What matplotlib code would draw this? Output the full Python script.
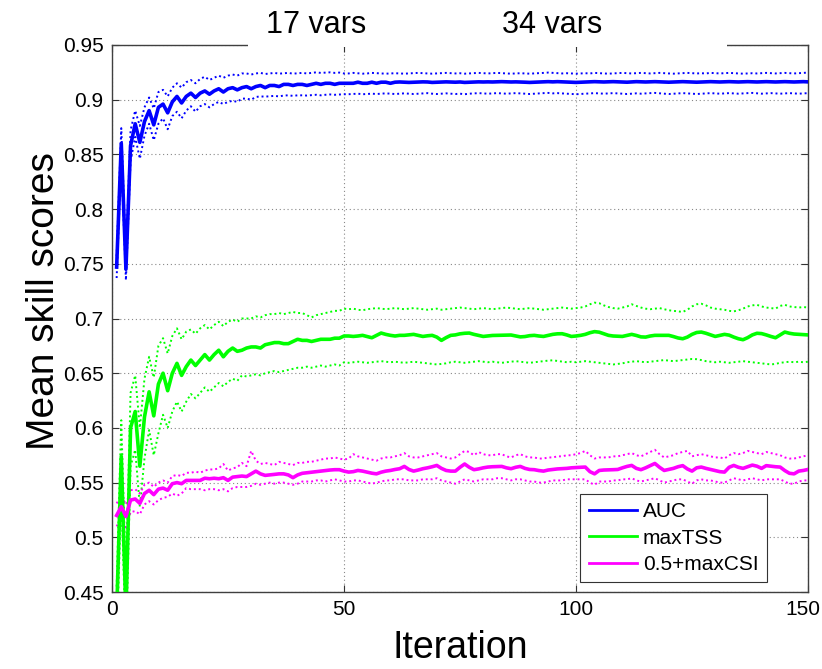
import matplotlib
matplotlib.use("Agg")
import matplotlib.pyplot as plt
from matplotlib.patches import Rectangle
import matplotlib.transforms as mtransforms

plt.rcParams['font.family'] = ['Liberation Sans', 'DejaVu Sans']

iterations = list(range(1, 151))

auc_mean = [
    0.747, 0.860, 0.745, 0.858, 0.878, 0.861, 0.880, 0.890, 0.877, 0.893,
    0.896, 0.888, 0.898, 0.903, 0.897, 0.903, 0.906, 0.902, 0.906, 0.908,
    0.905, 0.908, 0.910, 0.907, 0.910, 0.911, 0.909, 0.911, 0.912, 0.910,
    0.912, 0.913, 0.911, 0.913, 0.913, 0.912, 0.914, 0.914, 0.913, 0.914,
    0.914, 0.913, 0.914, 0.915, 0.914, 0.915, 0.915, 0.914, 0.915, 0.915,
    0.915, 0.915, 0.916, 0.915, 0.915, 0.916, 0.915, 0.916, 0.916, 0.915,
    0.9160, 0.9162, 0.9160, 0.9158, 0.9160, 0.9162, 0.9163, 0.9162, 0.9158, 0.9160,
    0.9162, 0.9163, 0.9162, 0.9160, 0.9162, 0.9158, 0.9160, 0.9162, 0.9163, 0.9162,
    0.9163, 0.9162, 0.9163, 0.9165, 0.9163, 0.9162, 0.9163, 0.9162, 0.9160, 0.9158,
    0.9160, 0.9162, 0.9163, 0.9165, 0.9163, 0.9165, 0.9163, 0.9162, 0.9160, 0.9158,
    0.9160, 0.9162, 0.9163, 0.9165, 0.9163, 0.9162, 0.9163, 0.9165, 0.9163, 0.9162,
    0.9160, 0.9162, 0.9165, 0.9163, 0.9162, 0.9163, 0.9165, 0.9163, 0.9162, 0.9160,
    0.9162, 0.9163, 0.9165, 0.9163, 0.9162, 0.9160, 0.9162, 0.9163, 0.9165, 0.9163,
    0.9162, 0.9163, 0.9165, 0.9163, 0.9162, 0.9163, 0.9165, 0.9163, 0.9162, 0.9163,
    0.9165, 0.9163, 0.9162, 0.9163, 0.9165, 0.9163, 0.9162, 0.9163, 0.9165, 0.9163,
]
auc_upper = [
    0.757, 0.874, 0.757, 0.872, 0.890, 0.876, 0.893, 0.902, 0.892, 0.907,
    0.909, 0.903, 0.911, 0.915, 0.911, 0.916, 0.918, 0.915, 0.919, 0.921,
    0.918, 0.920, 0.922, 0.920, 0.922, 0.923, 0.922, 0.924, 0.924, 0.923,
    0.9240, 0.9245, 0.9235, 0.9240, 0.9245, 0.9238, 0.9242, 0.9245, 0.9238, 0.9242,
    0.9245, 0.9240, 0.9245, 0.9250, 0.9245, 0.9248, 0.9250, 0.9245, 0.9248, 0.9240,
    0.9240, 0.9245, 0.9242, 0.9238, 0.9240, 0.9245, 0.9242, 0.9240, 0.9238, 0.9240,
    0.9242, 0.9240, 0.9238, 0.9240, 0.9242, 0.9245, 0.9242, 0.9240, 0.9238, 0.9240,
    0.9242, 0.9245, 0.9242, 0.9240, 0.9242, 0.9238, 0.9240, 0.9242, 0.9245, 0.9242,
    0.9240, 0.9242, 0.9245, 0.9242, 0.9240, 0.9238, 0.9240, 0.9242, 0.9240, 0.9238,
    0.9240, 0.9242, 0.9245, 0.9248, 0.9245, 0.9242, 0.9240, 0.9242, 0.9240, 0.9238,
    0.9240, 0.9242, 0.9240, 0.9245, 0.9242, 0.9240, 0.9238, 0.9240, 0.9242, 0.9245,
    0.9242, 0.9240, 0.9242, 0.9245, 0.9242, 0.9240, 0.9242, 0.9245, 0.9242, 0.9240,
    0.9238, 0.9240, 0.9242, 0.9245, 0.9242, 0.9240, 0.9242, 0.9240, 0.9245, 0.9242,
    0.9240, 0.9242, 0.9245, 0.9242, 0.9240, 0.9238, 0.9240, 0.9242, 0.9240, 0.9242,
    0.9245, 0.9242, 0.9240, 0.9242, 0.9245, 0.9242, 0.9240, 0.9242, 0.9245, 0.9248,
]
auc_lower = [
    0.737, 0.846, 0.735, 0.844, 0.866, 0.846, 0.867, 0.878, 0.863, 0.878,
    0.883, 0.873, 0.885, 0.889, 0.883, 0.890, 0.894, 0.889, 0.894, 0.896,
    0.893, 0.896, 0.898, 0.896, 0.898, 0.899, 0.898, 0.901, 0.901, 0.900,
    0.9025, 0.9030, 0.9028, 0.9032, 0.9035, 0.9030, 0.9038, 0.9040, 0.9035, 0.9040,
    0.9040, 0.9038, 0.9042, 0.9045, 0.9040, 0.9045, 0.9048, 0.9045, 0.9048, 0.9050,
    0.9050, 0.9052, 0.9055, 0.9050, 0.9052, 0.9055, 0.9052, 0.9055, 0.9058, 0.9055,
    0.9052, 0.9055, 0.9058, 0.9055, 0.9052, 0.9055, 0.9058, 0.9060, 0.9055, 0.9052,
    0.9055, 0.9058, 0.9055, 0.9052, 0.9055, 0.9050, 0.9055, 0.9058, 0.9060, 0.9058,
    0.9055, 0.9058, 0.9060, 0.9058, 0.9055, 0.9058, 0.9060, 0.9058, 0.9055, 0.9052,
    0.9055, 0.9058, 0.9060, 0.9062, 0.9058, 0.9060, 0.9058, 0.9055, 0.9052, 0.9050,
    0.9052, 0.9055, 0.9058, 0.9060, 0.9058, 0.9055, 0.9058, 0.9060, 0.9058, 0.9055,
    0.9052, 0.9055, 0.9058, 0.9055, 0.9058, 0.9060, 0.9062, 0.9058, 0.9055, 0.9052,
    0.9055, 0.9058, 0.9060, 0.9058, 0.9055, 0.9052, 0.9055, 0.9058, 0.9060, 0.9058,
    0.9055, 0.9058, 0.9060, 0.9058, 0.9055, 0.9058, 0.9060, 0.9062, 0.9058, 0.9055,
    0.9058, 0.9060, 0.9058, 0.9055, 0.9058, 0.9060, 0.9058, 0.9055, 0.9058, 0.9060,
]

tss_mean = [
    0.430, 0.574, 0.430, 0.600, 0.615, 0.565, 0.610, 0.633, 0.611, 0.640,
    0.650, 0.634, 0.650, 0.659, 0.648, 0.656, 0.662, 0.657, 0.662, 0.667,
    0.662, 0.667, 0.671, 0.665, 0.670, 0.673, 0.670, 0.671, 0.673, 0.674,
    0.674, 0.673, 0.676, 0.677, 0.678, 0.678, 0.677, 0.677, 0.679, 0.681,
    0.680, 0.680, 0.679, 0.680, 0.681, 0.681, 0.681, 0.682, 0.682, 0.684,
    0.6840, 0.6836, 0.6840, 0.6846, 0.6835, 0.6824, 0.6845, 0.6867, 0.6855, 0.6846,
    0.6840, 0.6846, 0.6846, 0.6850, 0.6855, 0.6845, 0.6836, 0.6842, 0.6846, 0.6830,
    0.6800, 0.6825, 0.6846, 0.6850, 0.6860, 0.6865, 0.6867, 0.6855, 0.6845, 0.6836,
    0.6840, 0.6845, 0.6846, 0.6846, 0.6848, 0.6849, 0.6840, 0.6832, 0.6835, 0.6843,
    0.6846, 0.6840, 0.6836, 0.6845, 0.6855, 0.6860, 0.6861, 0.6850, 0.6836, 0.6840,
    0.6846, 0.6855, 0.6870, 0.6880, 0.6875, 0.6860, 0.6846, 0.6840, 0.6838, 0.6836,
    0.6845, 0.6855, 0.6845, 0.6832, 0.6830, 0.6840, 0.6846, 0.6846, 0.6846, 0.6846,
    0.6835, 0.6822, 0.6815, 0.6830, 0.6855, 0.6872, 0.6876, 0.6865, 0.6850, 0.6836,
    0.6845, 0.6855, 0.6848, 0.6830, 0.6815, 0.6806, 0.6825, 0.6850, 0.6865, 0.6862,
    0.6850, 0.6836, 0.6824, 0.6850, 0.6876, 0.6865, 0.6858, 0.6855, 0.6852, 0.6850,
]
tss_upper = [
    0.455, 0.607, 0.460, 0.632, 0.648, 0.600, 0.645, 0.665, 0.646, 0.675,
    0.682, 0.668, 0.684, 0.691, 0.681, 0.688, 0.690, 0.686, 0.691, 0.694,
    0.690, 0.694, 0.697, 0.693, 0.697, 0.699, 0.697, 0.700, 0.700, 0.700,
    0.702, 0.701, 0.703, 0.704, 0.704, 0.705, 0.704, 0.705, 0.706, 0.705,
    0.705, 0.703, 0.701, 0.703, 0.704, 0.705, 0.706, 0.707, 0.707, 0.709,
    0.7085, 0.7090, 0.7080, 0.7075, 0.7085, 0.7090, 0.7095, 0.7090, 0.7085, 0.7090,
    0.7095, 0.7090, 0.7085, 0.7090, 0.7095, 0.7090, 0.7085, 0.7080, 0.7085, 0.7090,
    0.7080, 0.7085, 0.7090, 0.7095, 0.7100, 0.7095, 0.7090, 0.7085, 0.7090, 0.7095,
    0.7090, 0.7085, 0.7090, 0.7095, 0.7100, 0.7095, 0.7090, 0.7085, 0.7090, 0.7095,
    0.7090, 0.7085, 0.7080, 0.7085, 0.7090, 0.7095, 0.7100, 0.7095, 0.7090, 0.7095,
    0.7100, 0.7110, 0.7130, 0.7145, 0.7140, 0.7120, 0.7105, 0.7095, 0.7090, 0.7100,
    0.7110, 0.7130, 0.7115, 0.7100, 0.7090, 0.7085, 0.7090, 0.7095, 0.7085, 0.7075,
    0.7070, 0.7065, 0.7060, 0.7080, 0.7110, 0.7130, 0.7135, 0.7120, 0.7100, 0.7090,
    0.7085, 0.7080, 0.7070, 0.7065, 0.7075, 0.7090, 0.7110, 0.7120, 0.7125, 0.7110,
    0.7100, 0.7095, 0.7090, 0.7115, 0.7125, 0.7110, 0.7105, 0.7100, 0.7105, 0.7100,
]
tss_lower = [
    0.400, 0.540, 0.400, 0.565, 0.580, 0.528, 0.572, 0.598, 0.575, 0.595,
    0.612, 0.600, 0.615, 0.624, 0.615, 0.624, 0.631, 0.627, 0.632, 0.637,
    0.633, 0.637, 0.641, 0.638, 0.642, 0.645, 0.643, 0.648, 0.647, 0.648,
    0.649, 0.648, 0.650, 0.651, 0.652, 0.651, 0.652, 0.653, 0.654, 0.655,
    0.655, 0.656, 0.655, 0.656, 0.657, 0.656, 0.657, 0.658, 0.657, 0.660,
    0.6595, 0.6600, 0.6605, 0.6600, 0.6595, 0.6600, 0.6605, 0.6610, 0.6605, 0.6600,
    0.6605, 0.6600, 0.6595, 0.6600, 0.6605, 0.6600, 0.6595, 0.6590, 0.6585, 0.6580,
    0.6585, 0.6590, 0.6600, 0.6605, 0.6600, 0.6595, 0.6600, 0.6605, 0.6610, 0.6605,
    0.6600, 0.6605, 0.6600, 0.6595, 0.6600, 0.6605, 0.6610, 0.6605, 0.6600, 0.6595,
    0.6600, 0.6605, 0.6610, 0.6615, 0.6618, 0.6612, 0.6605, 0.6600, 0.6605, 0.6600,
    0.6605, 0.6610, 0.6605, 0.6600, 0.6595, 0.6590, 0.6585, 0.6580, 0.6585, 0.6590,
    0.6600, 0.6605, 0.6610, 0.6605, 0.6600, 0.6605, 0.6610, 0.6615, 0.6620, 0.6615,
    0.6610, 0.6615, 0.6620, 0.6625, 0.6630, 0.6628, 0.6620, 0.6610, 0.6605, 0.6600,
    0.6605, 0.6600, 0.6595, 0.6600, 0.6605, 0.6610, 0.6605, 0.6600, 0.6595, 0.6590,
    0.6585, 0.6580, 0.6585, 0.6595, 0.6600, 0.6605, 0.6600, 0.6605, 0.6600, 0.6605,
]

csi_mean = [
    0.520, 0.528, 0.519, 0.534, 0.535, 0.531, 0.540, 0.543, 0.539, 0.544,
    0.545, 0.543, 0.549, 0.550, 0.549, 0.552, 0.552, 0.552, 0.552, 0.554,
    0.5535, 0.5540, 0.5535, 0.5545, 0.5520, 0.5550, 0.5555, 0.5560, 0.5555, 0.5580,
    0.5605, 0.5580, 0.5566, 0.5570, 0.5575, 0.5580, 0.5580, 0.5570, 0.5545, 0.5570,
    0.5585, 0.5590, 0.5596, 0.5600, 0.5605, 0.5611, 0.5615, 0.5618, 0.5618, 0.5605,
    0.5596, 0.5600, 0.5611, 0.5605, 0.5595, 0.5586, 0.5580, 0.5595, 0.5605, 0.5611,
    0.5620, 0.5627, 0.5648, 0.5620, 0.5605, 0.5615, 0.5627, 0.5635, 0.5645, 0.5657,
    0.5630, 0.5611, 0.5605, 0.5605, 0.5640, 0.5670, 0.5640, 0.5618, 0.5625, 0.5635,
    0.5642, 0.5645, 0.5646, 0.5648, 0.5635, 0.5627, 0.5640, 0.5648, 0.5630, 0.5620,
    0.5618, 0.5610, 0.5605, 0.5615, 0.5620, 0.5625, 0.5627, 0.5630, 0.5635, 0.5638,
    0.5640, 0.5642, 0.5600, 0.5580, 0.5611, 0.5615, 0.5616, 0.5618, 0.5620, 0.5635,
    0.5648, 0.5657, 0.5630, 0.5618, 0.5635, 0.5655, 0.5675, 0.5640, 0.5611, 0.5620,
    0.5630, 0.5645, 0.5655, 0.5625, 0.5605, 0.5635, 0.5642, 0.5630, 0.5620, 0.5610,
    0.5600, 0.5596, 0.5640, 0.5657, 0.5640, 0.5630, 0.5645, 0.5660, 0.5650, 0.5630,
    0.5655, 0.5650, 0.5645, 0.5642, 0.5610, 0.5585, 0.5580, 0.5605, 0.5611, 0.5620,
]
csi_upper = [
    0.531, 0.538, 0.530, 0.543, 0.544, 0.540, 0.548, 0.550, 0.546, 0.550,
    0.552, 0.550, 0.556, 0.557, 0.556, 0.559, 0.559, 0.560, 0.559, 0.561,
    0.562, 0.562, 0.563, 0.567, 0.561, 0.563, 0.564, 0.568, 0.565, 0.579,
    0.570, 0.567, 0.568, 0.567, 0.566, 0.569, 0.568, 0.567, 0.566, 0.568,
    0.568, 0.569, 0.569, 0.570, 0.571, 0.572, 0.572, 0.573, 0.572, 0.571,
    0.572, 0.576, 0.574, 0.573, 0.572, 0.571, 0.570, 0.572, 0.573, 0.573,
    0.574, 0.575, 0.577, 0.574, 0.573, 0.573, 0.574, 0.575, 0.576, 0.577,
    0.574, 0.573, 0.572, 0.573, 0.576, 0.579, 0.578, 0.575, 0.578, 0.576,
    0.575, 0.575, 0.576, 0.576, 0.574, 0.573, 0.575, 0.576, 0.574, 0.573,
    0.573, 0.572, 0.572, 0.573, 0.573, 0.574, 0.574, 0.575, 0.575, 0.576,
    0.577, 0.579, 0.575, 0.572, 0.573, 0.573, 0.573, 0.574, 0.574, 0.575,
    0.576, 0.577, 0.575, 0.574, 0.576, 0.578, 0.580, 0.576, 0.573, 0.574,
    0.575, 0.577, 0.578, 0.579, 0.574, 0.575, 0.576, 0.575, 0.574, 0.573,
    0.573, 0.572, 0.575, 0.577, 0.576, 0.577, 0.579, 0.578, 0.577, 0.576,
    0.578, 0.577, 0.576, 0.575, 0.573, 0.572, 0.572, 0.573, 0.574, 0.575,
]
csi_lower = [
    0.510, 0.518, 0.509, 0.523, 0.524, 0.521, 0.530, 0.533, 0.530, 0.534,
    0.536, 0.537, 0.540, 0.538, 0.540, 0.545, 0.544, 0.544, 0.544, 0.543,
    0.544, 0.544, 0.543, 0.544, 0.542, 0.545, 0.546, 0.546, 0.546, 0.547,
    0.549, 0.548, 0.549, 0.550, 0.549, 0.550, 0.550, 0.549, 0.548, 0.549,
    0.551, 0.551, 0.551, 0.552, 0.552, 0.551, 0.552, 0.553, 0.552, 0.551,
    0.551, 0.552, 0.552, 0.551, 0.550, 0.549, 0.550, 0.551, 0.552, 0.552,
    0.553, 0.553, 0.553, 0.552, 0.552, 0.552, 0.553, 0.553, 0.553, 0.554,
    0.552, 0.551, 0.550, 0.549, 0.551, 0.553, 0.552, 0.551, 0.552, 0.553,
    0.553, 0.553, 0.554, 0.554, 0.553, 0.552, 0.553, 0.553, 0.552, 0.551,
    0.551, 0.550, 0.550, 0.551, 0.552, 0.552, 0.552, 0.553, 0.553, 0.553,
    0.553, 0.553, 0.550, 0.548, 0.551, 0.551, 0.551, 0.552, 0.552, 0.553,
    0.553, 0.554, 0.552, 0.551, 0.552, 0.553, 0.554, 0.552, 0.550, 0.551,
    0.552, 0.553, 0.553, 0.551, 0.549, 0.552, 0.553, 0.552, 0.552, 0.551,
    0.550, 0.550, 0.552, 0.554, 0.553, 0.552, 0.553, 0.554, 0.553, 0.552,
    0.553, 0.553, 0.553, 0.553, 0.551, 0.549, 0.549, 0.551, 0.552, 0.552,
]

series_labels = ['AUC', 'maxTSS', '0.5+maxCSI']
series_colors = ['#0000ff', '#00ff00', '#ff00ff']
x_ticks = [0, 50, 100, 150]
x_tick_labels = ['0', '50', '100', '150']
y_ticks = [0.45, 0.5, 0.55, 0.6, 0.65, 0.7, 0.75, 0.8, 0.85, 0.9, 0.95]
y_tick_labels = ['0.45', '0.5', '0.55', '0.6', '0.65', '0.7', '0.75', '0.8', '0.85', '0.9', '0.95']
top_labels = ['17 vars', '34 vars']

fig = plt.figure(figsize=(8.22, 6.69), dpi=100)
ax = fig.add_axes([112/822, 1-592/669, 696/822, 547/669])

means = [auc_mean, tss_mean, csi_mean]
uppers = [auc_upper, tss_upper, csi_upper]
lowers = [auc_lower, tss_lower, csi_lower]
for m, u, l, c, lab in zip(means, uppers, lowers, series_colors, series_labels):
    ax.plot(iterations, u, color=c, lw=1.4, linestyle=(0, (1.0, 1.5)), zorder=3)
    ax.plot(iterations, l, color=c, lw=1.4, linestyle=(0, (1.0, 1.5)), zorder=3)
    ax.plot(iterations, m, color=c, lw=2.6, label=lab, zorder=4)

ax.set_xlim(0, 150)
ax.set_ylim(0.45, 0.95)
ax.set_xticks(x_ticks)
ax.set_xticklabels(x_tick_labels)
ax.set_yticks(y_ticks)
ax.set_yticklabels(y_tick_labels)
ax.tick_params(direction='in', length=5, width=0.8, top=True, right=True,
               labelsize=15, pad=6, color='#333333')
ax.grid(True, color='#888888', linestyle=(0, (1, 2.5)), linewidth=0.8)
for s in ax.spines.values():
    s.set_color('#404040')
    s.set_linewidth(1.0)

# nudge the last x tick label slightly left so it stays inside the canvas
last_lbl = ax.get_xticklabels()[-1]
last_lbl.set_transform(last_lbl.get_transform() +
                       mtransforms.ScaledTranslation(-4/72, 0, fig.dpi_scale_trans))

ax.set_xlabel('Iteration', fontsize=27, labelpad=8)
ax.set_ylabel('Mean skill scores', fontsize=28)
ax.yaxis.set_label_coords(-0.072, 0.532)

# white band across the top edge behind the annotations
ax.add_patch(Rectangle((0.195, 0.996), 0.689, 0.1, transform=ax.transAxes,
                       facecolor='white', edgecolor='none', clip_on=False, zorder=10))
ax.text(0.294, 1.037, top_labels[0], transform=ax.transAxes, fontsize=22,
        ha='center', va='center', zorder=11)
ax.text(0.632, 1.037, top_labels[1], transform=ax.transAxes, fontsize=22,
        ha='center', va='center', zorder=11)

leg = ax.legend(loc='lower right', bbox_to_anchor=(0.941, 0.018), fontsize=15,
                frameon=True, fancybox=False, framealpha=1, edgecolor='#333333',
                handlelength=2.3, handletextpad=0.3, labelspacing=0.35,
                borderpad=0.4, borderaxespad=0)
leg.get_frame().set_linewidth(0.8)
for line in leg.get_lines():
    line.set_linewidth(2.0)

fig.savefig('out.png', dpi=100)
